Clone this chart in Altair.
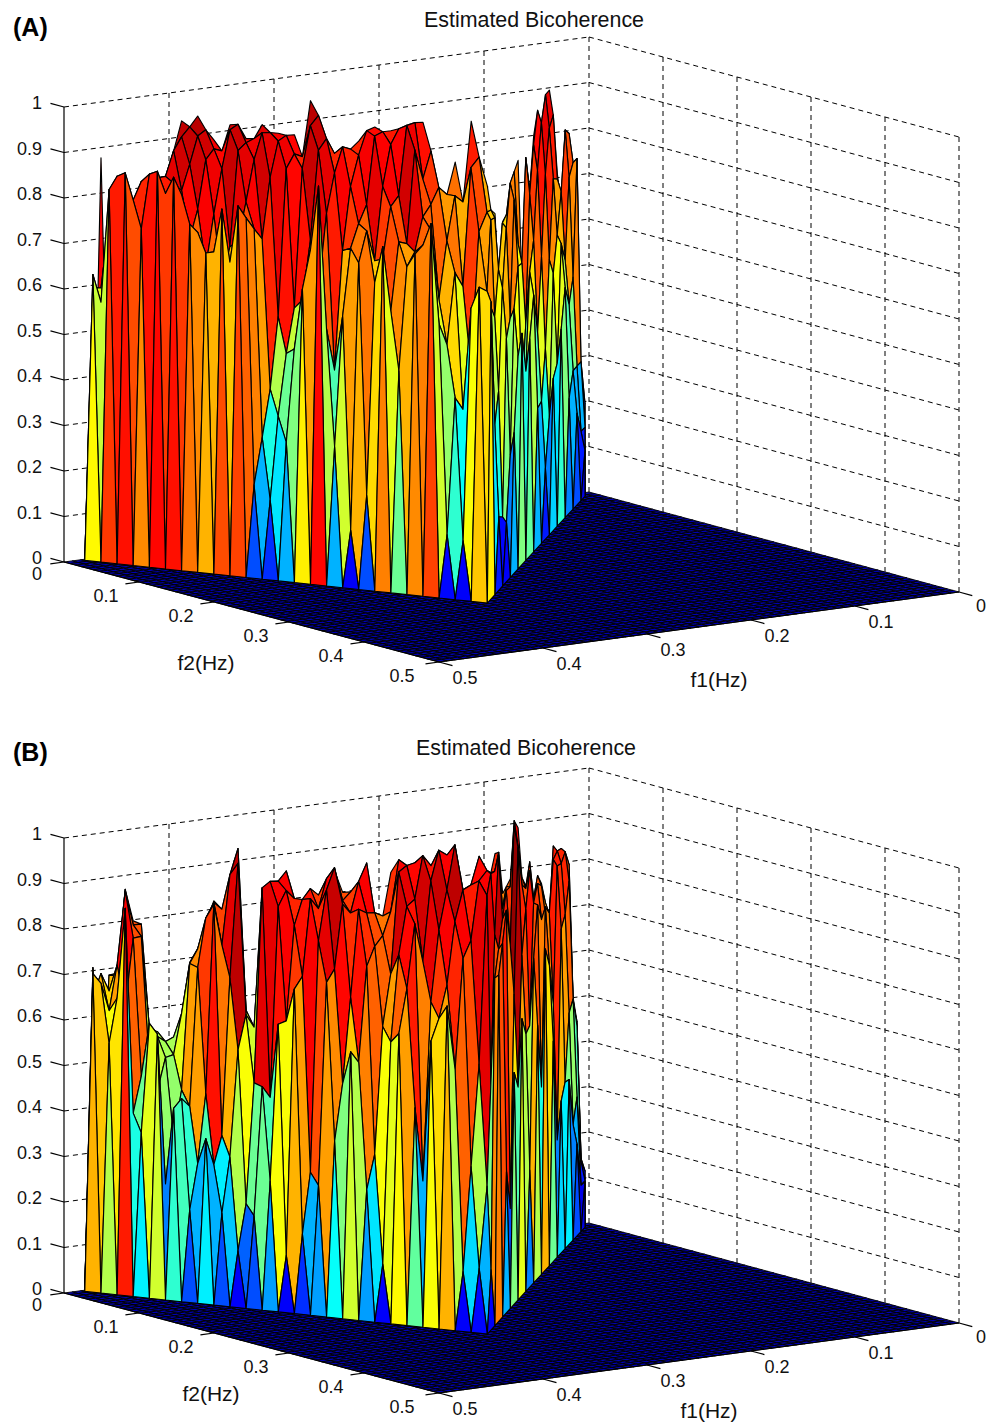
import altair as alt

# ---------- tick values and labels ----------
Z_TICKS = [0, 0.1, 0.2, 0.3, 0.4, 0.5, 0.6, 0.7, 0.8, 0.9, 1]
F_TICKS = [0, 0.1, 0.2, 0.3, 0.4, 0.5]

# ---------- bicoherence: one list per ridge row, front to back ----------
A1 = [.63,.82,.86,.74,.87,.86,.76,.7,.8,.81,.2,.17,.3,.64,.87,.3,.12,.2,.75,.48,.74,.81,.13,.12,.68,
      .64,.15,.12,.3,.5,.47,.3,.15,.33,.42,.25,.2,.1]
A2 = [0,.57,.85,.8,.86,.82,.82,.74,.7,.68,.78,.3,.35,.5,.72,.55,.58,.7,.66,.6,.7,.75,.58,.42,.62,.66,
      .35,.13,.25,.45,.4,.55,.3,.25,.35,.5,.3,.15]
A3 = [.6,.75,.82,.84,.85,.84,.72,.66,.63,.72,.75,.4,.48,.6,.62,.45,.72,.76,.7,.74,.72,.77,.52,.38,.63,
      .6,.4,.5,.55,.35,.6,.45,.4,.55,.6,.45,.3,.15]
A4 = [0,.6,.8,.79,.82,.85,.82,.78,.77,.7,.8,.72,.55,.57,.72,.78,.7,.76,.68,.8,.72,.78,.6,.66,.45,.62,
      .55,.6,.52,.62,.48,.65,.6,.58,.62,.55,.5,.3]
A5 = [.2,.5,.78,.82,.84,.9,.87,.88,.86,.9,.88,.84,.86,.86,.9,.85,.82,.78,.82,.8,.9,.78,.7,.6,.72,
      .74,.62,.7,.75,.6,.74,.78,.76,.74,.7,.72,.75,.2]
A6 = [0,.3,.55,.75,.79,.82,.92,.92,.89,.93,.9,.92,.9,.87,.93,.9,.88,.86,.9,.88,.92,.8,.78,.76,.82,.72,
      .7,.68,.76,.62,.8,.82,.86,.84,.72,.82,.74,.2]
A7 = [.1,.2,.82,.81,.82,.88,.93,.92,.87,.925,.89,.9,.89,.84,.927,.84,.846,.883,.877,.88,.89,.824,.725,.705,.8,
      .68,.5,.66,.75,.5,.7,.87,.9,.85,.65,.8,.42,.1]
A8 = [0,.88,.826,.767,.793,.82,.937,.943,.886,.914,.879,.905,.881,.873,.943,.822,.818,.84,.866,.853,.853,.862,.7,.765,.85,.703,
      .64,.62,.55,.75,.54,.8,.8,.895,.71,.79,.5,.12]
ROWS_A = [A1, A2, A3, A4, A5, A6, A7, A8]

B1 = [.7,.55,.85,.36,.58,.42,.2,.36,.2,.12,.2,.28,.12,.17,.28,.38,.58,.28,.12,.63,.47,.62,.7,.12,.13,
      .12,.75,.3,.5,.6,.25,.55,.7,.48,.33,.36,.2,.1]
B2 = [0,.68,.65,.4,.6,.25,.44,.3,.3,.32,.22,.48,.62,.7,.3,.72,.5,.55,.35,.6,.72,.3,.66,.55,.34,.3,
      .74,.8,.2,.45,.55,.7,.4,.65,.25,.36,.25,.1]
B3 = [.65,.62,.63,.48,.45,.35,.42,.45,.36,.55,.48,.45,.62,.72,.8,.74,.68,.75,.62,.78,.85,.68,.72,.78,.55,
      .5,.78,.85,.65,.72,.55,.8,.78,.55,.7,.5,.3,.1]
B4 = [0,.7,.72,.78,.5,.52,.45,.72,.86,.7,.62,.9,.86,.82,.88,.9,.87,.86,.78,.72,.87,.75,.82,.84,.8,.9,
      .8,.82,.75,.95,.8,.8,.75,.75,.84,.72,.52,.15]
B5 = [.3,.66,.88,.78,.56,.52,.72,.82,.76,.94,.58,.9,.88,.86,.84,.93,.83,.83,.78,.92,.86,.9,.88,.88,.9,
      .91,.94,.85,.98,.84,.86,.82,.74,.85,.83,.78,.45,.12]
B6 = [0,.4,.69,.8,.57,.54,.6,.74,.84,.9,.6,.85,.88,.84,.86,.88,.83,.87,.8,.8,.9,.92,.93,.94,.85,.88,
      .87,.78,.82,.9,.8,.77,.79,.72,.85,.84,.5,.15]
B7 = [.71,.69,.875,.795,.555,.54,.7,.785,.81,.94,.5,.8,.88,.8,.82,.87,.82,.88,.76,.88,.87,.86,.88,.8,.87,
      .83,.87,.79,.93,.8,.83,.795,.73,.85,.84,.8,.45,.1]
B8 = [0,.1,.69,.8,.5,.5,.57,.72,.82,.85,.5,.8,.84,.8,.8,.82,.8,.81,.72,.83,.84,.84,.84,.84,.66,.8,
      .84,.75,.78,.89,.76,.73,.76,.69,.82,.81,.5,.1]
ROWS_B = [B1, B2, B3, B4, B5, B6, B7, B8]

ROW_DEPTH = [0, .06, .12, .2, .3, .45, .65, .85, 1.0]   # share of the way across the ridge footprint
RIDGE_LEFT, RIDGE_CORNER, RIDGE_APEX = (.483, .004), (.3285, .3258), (0.0, 0.0)
FLOOR_CELLS = 64
FRONT_STEPS, SIDE_STEPS = 50, 25

# ---------- the 3-D axes box as drawn (image pixels) ----------
BOX = {"back": (588, 492), "left": (63, 562), "right": (958, 592), "front": (438, 662)}
Z_PIXELS = 455
W, X0, Y0, H_A, H_B = 979, 7, 8, 730, 686
FONT = "Liberation Sans"
INK = "#111111"


def P(f1, f2, z=0.0):
    a, b = f1 / .5, f2 / .5
    out = []
    for n in (0, 1):
        out.append((1 - a) * (1 - b) * BOX["back"][n] + a * (1 - b) * BOX["left"][n]
                   + (1 - a) * b * BOX["right"][n] + a * b * BOX["front"][n])
    return round(out[0], 1), round(out[1] - z * Z_PIXELS, 1)


def jet(z):
    clip = lambda v: max(0.0, min(1.0, v))
    r = clip(min(4 * z - 1.5, -4 * z + 4.5))
    g = clip(min(4 * z - .5, -4 * z + 3.5))
    b = clip(min(4 * z + .5, -4 * z + 2.5))
    return "#%02x%02x%02x" % (round(r * 255), round(g * 255), round(b * 255))


def poly(points, color):
    ring = [list(p) for p in points] + [list(points[0])]
    return {"type": "Feature", "geometry": {"type": "Polygon", "coordinates": [ring]},
            "properties": {"c": color}}


def floor_features():
    n = FLOOR_CELLS
    step = .5 / n
    out = []
    for i in range(n):
        for j in range(n):
            f1, f2 = i * step, j * step
            out.append(poly([P(f1, f2), P(f1 + step, f2), P(f1 + step, f2 + step), P(f1, f2 + step)], jet(.05)))
    return out


def column(i):
    """Front foot and back foot of ridge column i, on the floor."""
    lerp = lambda p, q, t: (p[0] + (q[0] - p[0]) * t, p[1] + (q[1] - p[1]) * t)
    if i <= FRONT_STEPS:
        front = lerp(RIDGE_LEFT, RIDGE_CORNER, i / FRONT_STEPS)
    else:
        front = lerp(RIDGE_CORNER, RIDGE_APEX, (i - FRONT_STEPS) / (SIDE_STEPS + 1))
    x0, x1 = P(*RIDGE_LEFT)[0], P(*RIDGE_APEX)[0]
    back = lerp(RIDGE_LEFT, RIDGE_APEX, (P(*front)[0] - x0) / (x1 - x0))
    return front, back


def vertex(rows, k, i):
    last = FRONT_STEPS + SIDE_STEPS
    i2 = max(0, min(last, i))
    front, back = column(i2)
    k2 = max(k, 0)
    d = ROW_DEPTH[k2]
    f1 = front[0] + (back[0] - front[0]) * d
    f2 = front[1] + (back[1] - front[1]) * d
    z = 0.0
    if k >= 1 and i == i2:
        z = rows[k - 1][i // 2]
    return P(f1, f2, z)


def ridge_features(rows):
    out = []
    last = FRONT_STEPS + SIDE_STEPS
    for k in range(len(rows), 0, -1):
        for i in range(k % 2, last + 1, 2):
            z = rows[k - 1][i // 2]
            pts = [vertex(rows, k, i), vertex(rows, k - 1, i + 1)]
            if k >= 2:
                pts.append(vertex(rows, k - 2, i))
            pts.append(vertex(rows, k - 1, i - 1))
            out.append(poly(pts, jet(z)))
    return out


def grid_lines():
    out = []
    for z in Z_TICKS[1:]:
        out.append((P(.5, 0, z), P(0, 0, z)))
        out.append((P(0, 0, z), P(0, .5, z)))
    for v in F_TICKS[:-1]:
        out.append((P(v, 0, 0), P(v, 0, 1)))
    for v in F_TICKS[1:]:
        out.append((P(0, v, 0), P(0, v, 1)))
    return [{"x": a[0], "y": a[1], "x2": b[0], "y2": b[1]} for a, b in out]


def axis_lines():
    out = [(P(.5, 0, 0), P(.5, 0, 1)), (P(.5, 0, 0), P(.5, .5, 0)), (P(.5, .5, 0), P(0, .5, 0))]
    for z in Z_TICKS:
        out.append((P(.5, 0, z), P(.5, -.018, z)))
    for v in F_TICKS:
        out.append((P(.5, v, 0), P(.513, v, 0)))
        out.append((P(v, .5, 0), P(v, .518, 0)))
    return [{"x": a[0], "y": a[1], "x2": b[0], "y2": b[1]} for a, b in out]


def tick_labels():
    out = []
    for z in Z_TICKS:
        p = P(.5, 0, z)
        out.append({"x": p[0] - 22, "y": p[1] - 3, "t": str(z), "a": "right"})
    for v in F_TICKS:
        p = P(.5, v, 0)
        if v == 0:
            out.append({"x": p[0] - 22, "y": p[1] + 13, "t": str(v), "a": "right"})
        else:
            out.append({"x": p[0] + (-37 if v == .5 else -33), "y": p[1] + 15, "t": str(v), "a": "center"})
    for v in F_TICKS:
        p = P(v, .5, 0)
        out.append({"x": p[0] + (22 if v == 0 else 26), "y": p[1] + (15 if v == 0 else 17), "t": str(v), "a": "center"})
    return out


def panel(rows, letter, letter_y, title_x, title_y, f2_x, f1_x, height):
    xs = alt.Scale(domain=[X0, X0 + W], range=[0, W], nice=False, zero=False)
    ys = alt.Scale(domain=[Y0, Y0 + height], range=[0, height], nice=False, zero=False)
    x = alt.X("x:Q", scale=xs, axis=None)
    y = alt.Y("y:Q", scale=ys, axis=None)

    grid = alt.Chart(alt.Data(values=grid_lines())).mark_rule(
        color="#000000", strokeWidth=1, strokeDash=[5, 4]).encode(x=x, y=y, x2="x2:Q", y2="y2:Q")
    axes = alt.Chart(alt.Data(values=axis_lines())).mark_rule(
        color="#000000", strokeWidth=1.2).encode(x=x, y=y, x2="x2:Q", y2="y2:Q")

    proj = alt.Projection(type="identity", scale=1, translate=[-X0, -Y0])
    floor = alt.Chart(alt.Data(values=floor_features())).mark_geoshape(
        stroke="#000000", strokeWidth=0.9).encode(
        color=alt.Color("properties.c:N", scale=None, legend=None)).properties(projection=proj)
    ridge = alt.Chart(alt.Data(values=ridge_features(rows))).mark_geoshape(
        stroke="#000000", strokeWidth=1.15, strokeJoin="round").encode(
        color=alt.Color("properties.c:N", scale=None, legend=None)).properties(projection=proj)

    right = [d for d in tick_labels() if d["a"] == "right"]
    centre = [d for d in tick_labels() if d["a"] == "center"]
    ticks_r = alt.Chart(alt.Data(values=right)).mark_text(
        font=FONT, fontSize=18, color=INK, baseline="middle", align="right").encode(x=x, y=y, text="t:N")
    ticks_c = alt.Chart(alt.Data(values=centre)).mark_text(
        font=FONT, fontSize=18, color=INK, baseline="middle", align="center").encode(x=x, y=y, text="t:N")

    headline = alt.Chart(alt.Data(values=[{"x": title_x, "y": title_y, "t": "Estimated Bicoherence"}])).mark_text(
        font=FONT, fontSize=21.4, color=INK, baseline="middle", align="center").encode(x=x, y=y, text="t:N")
    words = [{"x": f2_x, "y": 664, "t": "f2(Hz)"}, {"x": f1_x, "y": 681, "t": "f1(Hz)"}]
    labels = alt.Chart(alt.Data(values=words)).mark_text(
        font=FONT, fontSize=21, color=INK, baseline="middle", align="center").encode(x=x, y=y, text="t:N")
    tag = alt.Chart(alt.Data(values=[{"x": 12, "y": letter_y, "t": letter}])).mark_text(
        font=FONT, fontSize=25, fontWeight="bold", color="#000000", baseline="middle", align="left").encode(
        x=x, y=y, text="t:N")

    return alt.layer(grid, floor, ridge, axes, ticks_r, ticks_c, headline, labels, tag).properties(
        width=W, height=height)


upper = panel(ROWS_A, "(A)", 28, 533, 20.5, 205, 718, H_A)
lower = panel(ROWS_B, "(B)", 22, 525, 18, 210, 708, H_B)
chart = alt.vconcat(upper, lower, spacing=0).properties(padding=0).configure_view(stroke=None)
chart.save("out.html", embed_options={"renderer": "svg", "actions": False})
